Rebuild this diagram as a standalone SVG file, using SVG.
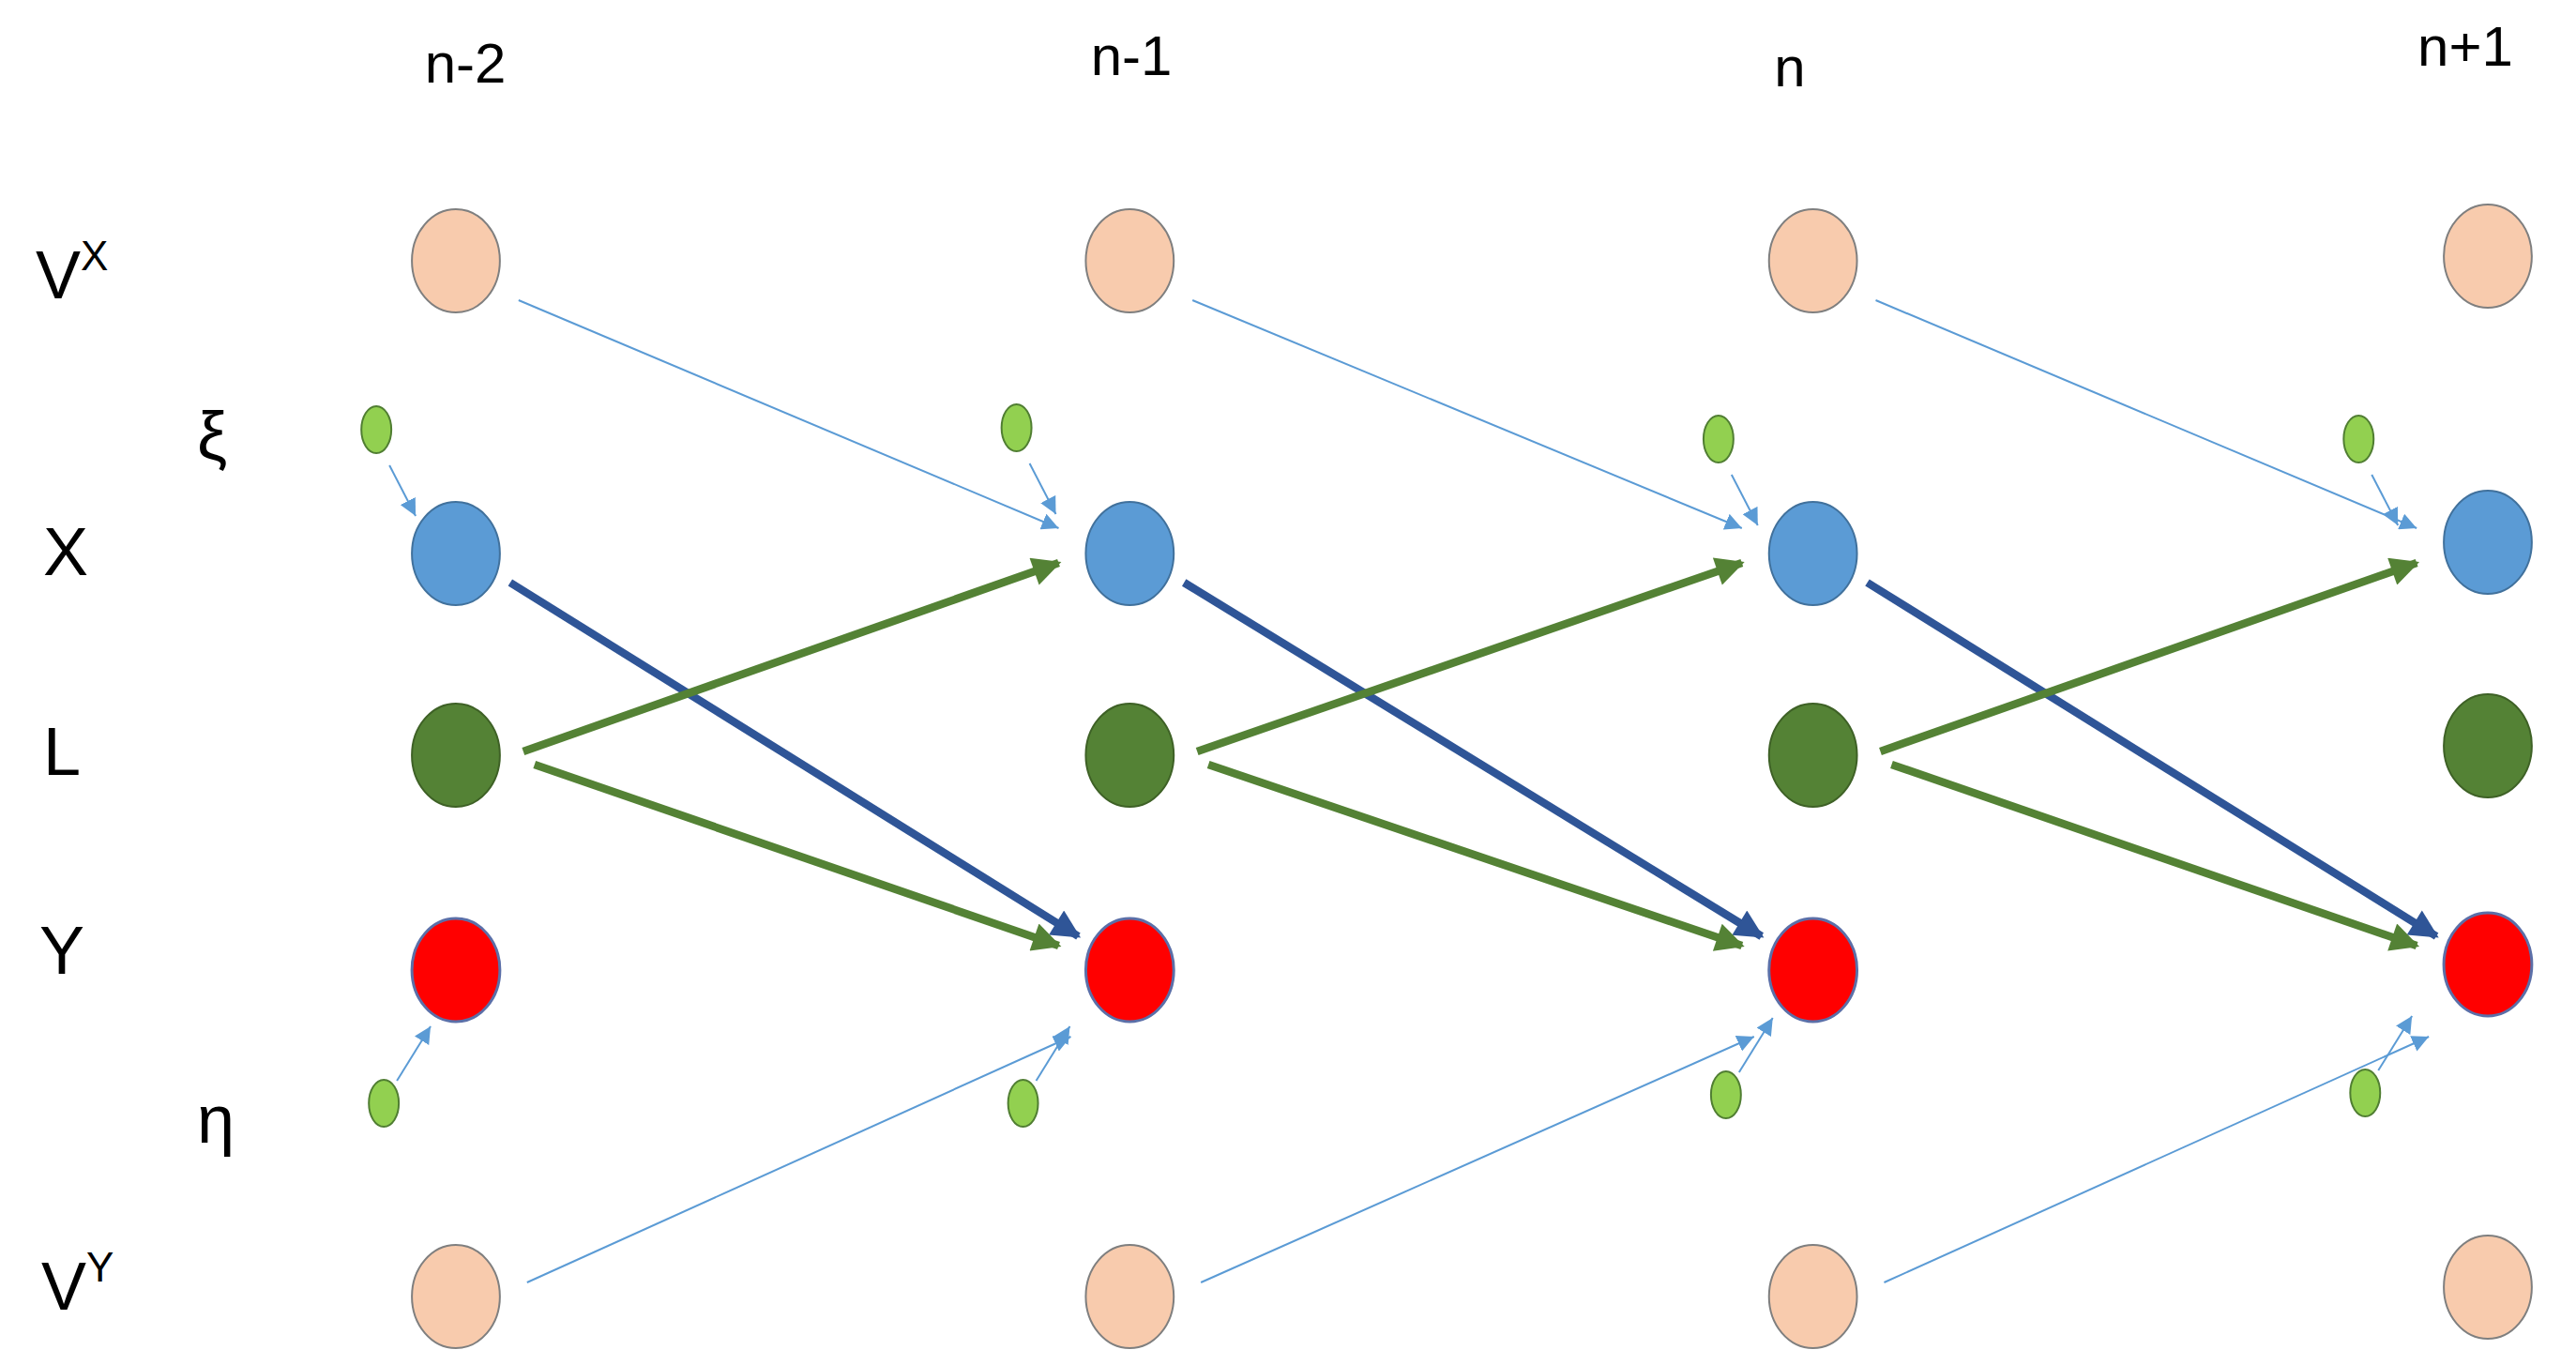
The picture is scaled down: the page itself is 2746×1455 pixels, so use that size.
<svg xmlns="http://www.w3.org/2000/svg" width="2746" height="1455" viewBox="0 0 2746 1455">
<style>
text{font-family:"Liberation Sans",Arial,sans-serif;fill:#000}
.t{font-size:60px;text-anchor:middle}
.r{font-size:72px}
.v{fill:#f8cbad;stroke:#7f7f7f;stroke-width:2}
.x{fill:#5b9bd5;stroke:#41719c;stroke-width:2}
.l{fill:#548235;stroke:#3e6126;stroke-width:2}
.y{fill:#ff0000;stroke:#5b6fa8;stroke-width:3}
.s{fill:#92d050;stroke:#507e32;stroke-width:2}
.thin{stroke:#5b9bd5;stroke-width:2;fill:none;marker-end:url(#ma)}
.bl{stroke:#2f5597;stroke-width:8.5;fill:none;marker-end:url(#mb)}
.gr{stroke:#548235;stroke-width:8.5;fill:none;marker-end:url(#mg)}
</style>
<defs>
<marker id="ma" viewBox="0 0 10 10" refX="10" refY="5" markerWidth="9" markerHeight="9" orient="auto"><path d="M0,0 L10,5 L0,10 z" fill="#5b9bd5"/></marker>
<marker id="mb" viewBox="0 0 10 10" refX="9" refY="5" markerWidth="4" markerHeight="3.6" orient="auto"><path d="M0,0 L10,5 L0,10 z" fill="#2f5597"/></marker>
<marker id="mg" viewBox="0 0 10 10" refX="9" refY="5" markerWidth="4" markerHeight="3.6" orient="auto"><path d="M0,0 L10,5 L0,10 z" fill="#548235"/></marker>
</defs>
<rect width="2746" height="1455" fill="#fff"/>
<g id="labels">
<text class="t" x="496" y="88">n-2</text>
<text class="t" x="1206" y="80">n-1</text>
<text class="t" x="1908" y="92">n</text>
<text class="t" x="2628" y="70">n+1</text>
<text class="r" x="38" y="318">V<tspan font-size="44" dy="-30">X</tspan></text>
<text class="r" x="210" y="490">ξ</text>
<text class="r" x="46" y="613">X</text>
<text class="r" x="46" y="826">L</text>
<text class="r" x="42" y="1038">Y</text>
<text class="r" x="210" y="1218">η</text>
<text class="r" x="44" y="1396">V<tspan font-size="44" dy="-30">Y</tspan></text>
</g>
<g transform="translate(0.1,0) scale(0.9977,1)">
<g id="connectors">
<line class="thin" x1="554" y1="320" x2="1131" y2="563"/>
<line class="bl" x1="545" y1="621" x2="1152" y2="998"/>
<line class="gr" x1="559" y1="801" x2="1131" y2="600"/>
<line class="gr" x1="571" y1="815" x2="1131" y2="1008"/>
<line class="thin" x1="563" y1="1367" x2="1144" y2="1105"/>
<line class="thin" x1="1274" y1="320" x2="1861" y2="563"/>
<line class="bl" x1="1265" y1="621" x2="1882" y2="998"/>
<line class="gr" x1="1279" y1="801" x2="1861" y2="600"/>
<line class="gr" x1="1291" y1="815" x2="1861" y2="1008"/>
<line class="thin" x1="1283" y1="1367" x2="1874" y2="1105"/>
<line class="thin" x1="2004" y1="320" x2="2582" y2="563"/>
<line class="bl" x1="1995" y1="621" x2="2603" y2="998"/>
<line class="gr" x1="2009" y1="801" x2="2582" y2="600"/>
<line class="gr" x1="2021" y1="815" x2="2582" y2="1008"/>
<line class="thin" x1="2013" y1="1367" x2="2595" y2="1105"/>
<line class="thin" x1="416" y1="496" x2="444" y2="550"/>
<line class="thin" x1="1100" y1="494" x2="1128" y2="548"/>
<line class="thin" x1="1850" y1="506" x2="1878" y2="560"/>
<line class="thin" x1="2534" y1="506" x2="2562" y2="560"/>
<line class="thin" x1="424" y1="1152" x2="460" y2="1094"/>
<line class="thin" x1="1107" y1="1152" x2="1143" y2="1094"/>
<line class="thin" x1="1858" y1="1143" x2="1894" y2="1085"/>
<line class="thin" x1="2541" y1="1141" x2="2577" y2="1083"/>
</g>
<g id="col-n-2">
<ellipse id="vx0" class="v" cx="487" cy="278" rx="47" ry="55"/>
<ellipse id="xi0" class="s" cx="402" cy="458" rx="16" ry="25"/>
<ellipse id="x0" class="x" cx="487" cy="590" rx="47" ry="55"/>
<ellipse id="l0" class="l" cx="487" cy="805" rx="47" ry="55"/>
<ellipse id="y0" class="y" cx="487" cy="1034" rx="47" ry="55"/>
<ellipse id="eta0" class="s" cx="410" cy="1176" rx="16" ry="25"/>
<ellipse id="vy0" class="v" cx="487" cy="1382" rx="47" ry="55"/>
</g>
<g id="col-n-1">
<ellipse id="vx1" class="v" cx="1207" cy="278" rx="47" ry="55"/>
<ellipse id="xi1" class="s" cx="1086" cy="456" rx="16" ry="25"/>
<ellipse id="x1" class="x" cx="1207" cy="590" rx="47" ry="55"/>
<ellipse id="l1" class="l" cx="1207" cy="805" rx="47" ry="55"/>
<ellipse id="y1" class="y" cx="1207" cy="1034" rx="47" ry="55"/>
<ellipse id="eta1" class="s" cx="1093" cy="1176" rx="16" ry="25"/>
<ellipse id="vy1" class="v" cx="1207" cy="1382" rx="47" ry="55"/>
</g>
<g id="col-n">
<ellipse id="vx2" class="v" cx="1937" cy="278" rx="47" ry="55"/>
<ellipse id="xi2" class="s" cx="1836" cy="468" rx="16" ry="25"/>
<ellipse id="x2" class="x" cx="1937" cy="590" rx="47" ry="55"/>
<ellipse id="l2" class="l" cx="1937" cy="805" rx="47" ry="55"/>
<ellipse id="y2" class="y" cx="1937" cy="1034" rx="47" ry="55"/>
<ellipse id="eta2" class="s" cx="1844" cy="1167" rx="16" ry="25"/>
<ellipse id="vy2" class="v" cx="1937" cy="1382" rx="47" ry="55"/>
</g>
<g id="col-n+1">
<ellipse id="vx3" class="v" cx="2658" cy="273" rx="47" ry="55"/>
<ellipse id="xi3" class="s" cx="2520" cy="468" rx="16" ry="25"/>
<ellipse id="x3" class="x" cx="2658" cy="578" rx="47" ry="55"/>
<ellipse id="l3" class="l" cx="2658" cy="795" rx="47" ry="55"/>
<ellipse id="y3" class="y" cx="2658" cy="1028" rx="47" ry="55"/>
<ellipse id="eta3" class="s" cx="2527" cy="1165" rx="16" ry="25"/>
<ellipse id="vy3" class="v" cx="2658" cy="1372" rx="47" ry="55"/>
</g>
</g>
</svg>
